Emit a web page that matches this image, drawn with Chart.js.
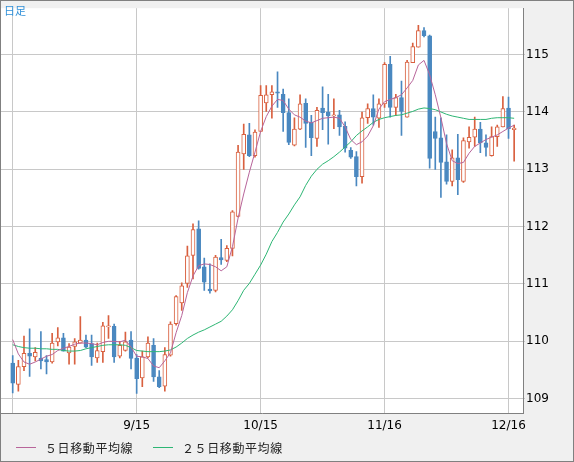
<!DOCTYPE html>
<html>
<head>
<meta charset="utf-8">
<script src="https://cdn.jsdelivr.net/npm/chart.js@4.4.0/dist/chart.umd.min.js"></script>
<style>
  html, body { margin: 0; padding: 0; background: #f0f0f0; }
  canvas { display: block; }
</style>
</head>
<body>
<canvas id="candleChart" width="574" height="462"></canvas>
<script>
// daily candles (index 0 = 8/15)
const open = [109.62, 109.25, 109.56, 109.79, 109.73, 109.71, 109.68, 109.64, 109.99, 110.06,
  109.80, 109.91, 109.97, 110.02, 109.96, 109.71, 109.82, 110.25, 110.26, 109.74,
  109.84, 110.02, 109.71, 109.36, 109.73, 109.93, 109.38, 109.22, 109.76, 110.31,
  110.67, 111.01, 111.50, 111.96, 111.30, 110.91, 110.89, 111.46, 111.41, 111.62,
  112.18, 113.27, 113.60, 113.24, 113.66, 114.16, 114.30, 114.35, 114.31, 113.99,
  113.42, 113.70, 114.15, 113.82, 113.54, 114.07, 114.00, 113.93, 113.95, 113.75,
  113.33, 113.22, 112.87, 113.90, 114.06, 113.89, 114.14, 114.83, 114.08, 114.25,
  113.91, 114.86, 115.13, 115.42, 115.33, 113.66, 113.55, 113.13, 112.79, 113.20,
  112.79, 113.48, 113.56, 113.70, 113.46, 113.24, 113.57, 113.74, 114.07, 113.69];
const high = [109.75, 109.67, 110.09, 110.22, 109.89, 110.17, 109.75, 110.14, 110.24, 110.14,
  109.96, 110.05, 110.43, 110.11, 110.11, 109.97, 110.33, 110.45, 110.30, 110.00,
  110.16, 110.17, 109.77, 109.83, 110.08, 110.05, 109.49, 109.89, 110.34, 110.80,
  111.02, 111.66, 112.05, 112.10, 111.45, 111.35, 111.50, 111.78, 111.67, 112.28,
  113.42, 113.79, 113.80, 113.69, 114.46, 114.46, 114.46, 114.70, 114.40, 114.23,
  113.90, 114.30, 114.23, 113.94, 114.08, 114.44, 114.31, 114.23, 114.03, 113.83,
  113.38, 113.31, 114.00, 114.14, 114.30, 114.23, 114.86, 114.97, 114.31, 114.54,
  114.90, 115.20, 115.51, 115.47, 115.34, 113.91, 113.90, 113.60, 113.34, 113.61,
  113.55, 113.74, 113.91, 113.82, 113.60, 113.74, 113.77, 114.27, 114.26, 113.77];
const low = [109.10, 109.13, 109.49, 109.39, 109.66, 109.52, 109.43, 109.62, 109.92, 109.83,
  109.60, 109.60, 109.97, 109.89, 109.58, 109.63, 109.63, 110.05, 109.63, 109.71,
  109.83, 109.52, 109.09, 109.21, 109.71, 109.30, 109.19, 109.13, 109.74, 110.28,
  110.54, 110.94, 111.09, 111.26, 110.89, 110.84, 110.86, 111.34, 111.39, 111.49,
  112.17, 113.00, 113.22, 113.21, 113.66, 114.01, 113.89, 114.08, 113.66, 113.43,
  113.41, 113.69, 113.38, 113.24, 113.40, 113.69, 113.44, 113.71, 113.59, 113.30,
  113.19, 112.71, 112.76, 113.80, 113.77, 113.73, 114.08, 113.91, 113.94, 113.59,
  113.91, 114.86, 115.13, 115.31, 113.02, 113.00, 112.51, 112.74, 112.71, 112.56,
  112.77, 113.37, 113.40, 113.29, 113.23, 113.23, 113.40, 113.74, 113.54, 113.14];
const close = [109.27, 109.56, 109.79, 109.74, 109.81, 109.66, 109.64, 109.97, 110.06, 109.83,
  109.90, 109.99, 110.02, 109.90, 109.73, 109.84, 110.27, 110.27, 109.73, 109.93,
  109.99, 109.70, 109.35, 109.73, 109.97, 109.38, 109.21, 109.77, 110.30, 110.78,
  110.97, 111.49, 111.95, 111.27, 111.03, 110.88, 111.47, 111.42, 111.62, 112.26,
  113.30, 113.61, 113.24, 113.65, 114.29, 114.30, 114.35, 114.33, 113.99, 113.47,
  113.70, 114.14, 113.80, 113.55, 114.03, 113.99, 113.93, 113.95, 113.74, 113.37,
  113.21, 112.87, 113.90, 114.06, 113.91, 114.14, 114.83, 114.08, 114.25, 114.01,
  114.87, 115.14, 115.42, 115.33, 113.19, 113.54, 113.12, 112.79, 113.20, 112.82,
  113.50, 113.56, 113.70, 113.46, 113.38, 113.57, 113.74, 114.06, 113.71, 113.72];

// moving averages as drawn
const ma5 = [110.03, 109.78, 109.64, 109.60, 109.64, 109.69, 109.74, 109.77, 109.84, 109.88,
  109.91, 109.95, 109.97, 109.97, 109.96, 109.94, 109.98, 110.00, 110.00, 109.99,
  110.02, 109.90, 109.74, 109.73, 109.70, 109.57, 109.54, 109.66, 109.80, 110.15,
  110.45, 110.85, 111.14, 111.32, 111.35, 111.34, 111.30, 111.23, 111.30, 111.65,
  112.15, 112.57, 112.95, 113.30, 113.66, 113.92, 114.10, 114.22, 114.20, 114.05,
  113.95, 113.91, 113.84, 113.81, 113.85, 113.89, 113.90, 113.91, 113.89, 113.74,
  113.52, 113.43, 113.48, 113.58, 113.76, 114.05, 114.18, 114.22, 114.25, 114.30,
  114.42, 114.55, 114.82, 114.90, 114.65, 114.30, 113.90, 113.45, 113.15, 113.10,
  113.12, 113.28, 113.40, 113.46, 113.52, 113.56, 113.60, 113.66, 113.72, 113.77];
const ma25 = [109.94, 109.91, 109.89, 109.88, 109.88, 109.87, 109.87, 109.86, 109.86, 109.84,
  109.83, 109.83, 109.84, 109.87, 109.89, 109.91, 109.93, 109.94, 109.94, 109.94,
  109.93, 109.89, 109.84, 109.83, 109.82, 109.82, 109.82, 109.83, 109.85, 109.90,
  109.97, 110.05, 110.11, 110.16, 110.20, 110.25, 110.30, 110.35, 110.44, 110.55,
  110.71, 110.89, 111.01, 111.17, 111.33, 111.52, 111.74, 111.90, 112.08, 112.22,
  112.38, 112.52, 112.72, 112.88, 113.00, 113.09, 113.15, 113.22, 113.30, 113.39,
  113.48, 113.59, 113.67, 113.74, 113.82, 113.87, 113.90, 113.92, 113.94, 113.95,
  113.98, 114.01, 114.05, 114.07, 114.06, 114.04, 114.00, 113.96, 113.93, 113.91,
  113.89, 113.87, 113.87, 113.87, 113.87, 113.89, 113.90, 113.90, 113.90, 113.89];

// x axis ticks (candle index -> label)
const tickIdx = [0, 22, 44, 66, 88];
const tickLabels = ['', '9/15', '10/15', '11/16', '12/16'];

const legendNames = ['５日移動平均線', '２５日移動平均線'];

const UP = '#d9603f';
const DOWN = '#4a88c0';
const MA5_COLOR = '#b8659a';
const MA25_COLOR = '#2db674';
const GRID = '#c8c8c8';
const FRAME = '#808080';

const isUp = i => close[i] >= open[i];

// background, frame, title and legend
const decor = {
    id: 'decor',
    beforeDraw(chart) {
        const { ctx, chartArea: a, width, height } = chart;
        ctx.save();
        ctx.fillStyle = '#f0f0f0';
        ctx.fillRect(0, 0, width, height);
        ctx.fillStyle = '#ffffff';
        ctx.fillRect(a.left, a.top, a.right - a.left, a.bottom - a.top);
        ctx.restore();
    },
    afterDraw(chart) {
        const { ctx, width, height } = chart;
        ctx.save();
        ctx.strokeStyle = FRAME;
        ctx.lineWidth = 1;
        ctx.strokeRect(0.5, 0.5, width - 1, height - 1);

        ctx.fillStyle = '#3090d8';
        ctx.font = '11px "Noto Sans CJK JP"';
        ctx.textBaseline = 'middle';
        ctx.fillText('日足', 4, 11);

        const items = [[16, MA5_COLOR], [153, MA25_COLOR]];
        ctx.font = '12px "Noto Sans CJK JP"';
        ctx.letterSpacing = '0.6px';
        items.forEach(([x, c], k) => {
            ctx.strokeStyle = c;
            ctx.beginPath();
            ctx.moveTo(x, 447.5);
            ctx.lineTo(x + 20, 447.5);
            ctx.stroke();
            ctx.fillStyle = '#222';
            ctx.fillText(legendNames[k], x + 29, 448);
        });
        ctx.restore();
    }
};

const ctx = document.getElementById('candleChart').getContext('2d');
const candleChart = new Chart(ctx, {
    type: 'bar',
    data: {
        datasets: [{
            label: 'wick',
            data: open.map((o, i) => ({ x: i, y: [low[i], high[i]] })),
            backgroundColor: c => isUp(c.dataIndex) ? UP : DOWN,
            borderWidth: 0,
            barThickness: 1,
            grouped: false,
            order: 3
        }, {
            label: 'body',
            data: open.map((o, i) => ({ x: i, y: [o, close[i]] })),
            backgroundColor: c => isUp(c.dataIndex) ? '#ffffff' : DOWN,
            borderColor: c => isUp(c.dataIndex) ? UP : DOWN,
            borderWidth: 1,
            borderSkipped: false,
            barThickness: 4,
            grouped: false,
            order: 2
        }, {
            type: 'line',
            label: legendNames[0],
            data: ma5.map((v, i) => ({ x: i, y: v })),
            borderColor: MA5_COLOR,
            borderWidth: 1,
            pointRadius: 0,
            tension: 0,
            order: 1
        }, {
            type: 'line',
            label: legendNames[1],
            data: ma25.map((v, i) => ({ x: i, y: v })),
            borderColor: MA25_COLOR,
            borderWidth: 1,
            pointRadius: 0,
            tension: 0,
            order: 1
        }]
    },
    options: {
        responsive: false,
        animation: false,
        events: [],
        layout: { padding: { left: 1, top: 1, right: 0, bottom: 0 } },
        plugins: {
            legend: { display: false },
            tooltip: { enabled: false }
        },
        scales: {
            x: {
                type: 'linear',
                offset: false,
                min: -2.08,
                max: 90.57,
                afterBuildTicks: s => { s.ticks = tickIdx.map(v => ({ value: v })); },
                afterFit: s => { s.height = 49; },
                ticks: {
                    callback: (v, i) => tickLabels[i],
                    autoSkip: false,
                    maxRotation: 0,
                    padding: 6,
                    color: '#000',
                    font: { family: 'DejaVu Sans', size: 12 }
                },
                grid: { color: GRID, drawTicks: false, offset: false },
                border: { color: FRAME }
            },
            y: {
                position: 'right',
                min: 108.75,
                max: 115.81,
                afterFit: s => { s.width = 51; },
                ticks: {
                    stepSize: 1,
                    includeBounds: false,
                    padding: 1,
                    color: '#000',
                    font: { family: 'DejaVu Sans', size: 12 }
                },
                grid: { color: GRID, tickLength: 2 },
                border: { color: FRAME }
            }
        }
    },
    plugins: [decor]
});
</script>
</body>
</html>
